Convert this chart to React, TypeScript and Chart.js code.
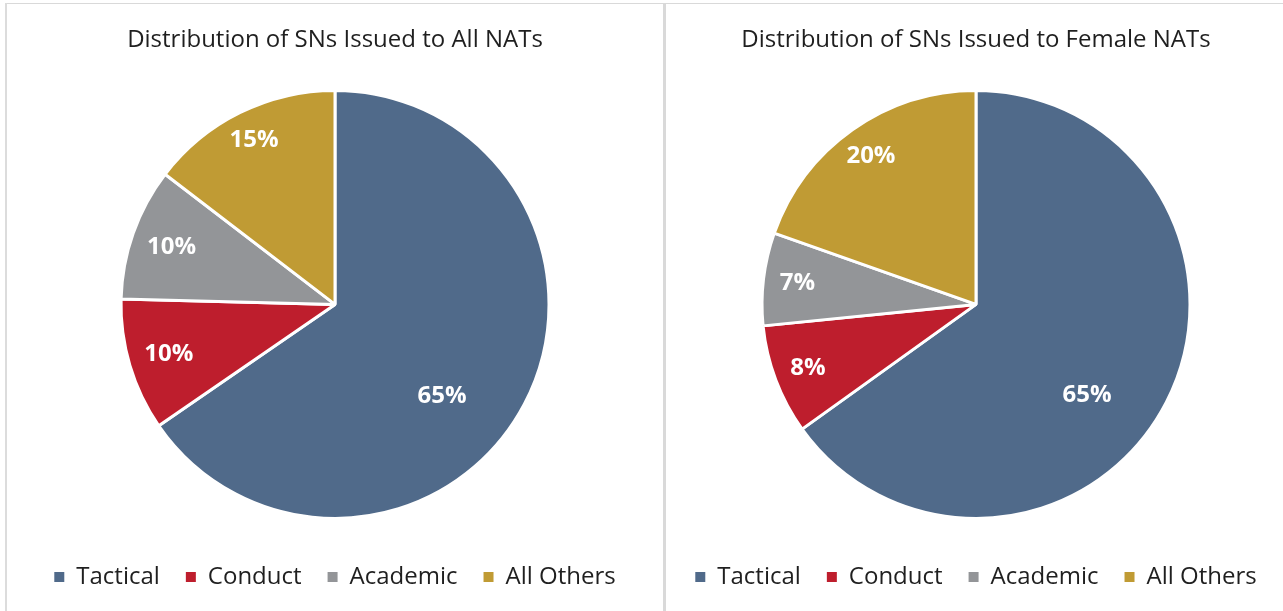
import React, { useEffect, useRef } from "react";
import { Chart, registerables } from "chart.js";

Chart.register(...registerables);

const categories = ["Tactical", "Conduct", "Academic", "All Others"];
const allNatsShare = [65.4, 10.0, 10.0, 14.6];
const femaleNatsShare = [65.1, 8.3, 7.0, 19.6];
const allNatsTitle = "Distribution of SNs Issued to All NATs";
const femaleNatsTitle = "Distribution of SNs Issued to Female NATs";
const sliceColors = ["#506A8A", "#BE1E2D", "#939598", "#C09B34"];

const FONT = "'Open Sans', 'Noto Sans', sans-serif";

const sliceLabels = {
  id: "sliceLabels",
  afterDatasetsDraw(chart: any, _args: any, opts: any) {
    const ctx = chart.ctx;
    const meta = chart.getDatasetMeta(0);
    const data = chart.data.datasets[0].data as number[];
    const total = data.reduce((a, b) => a + b, 0);
    ctx.save();
    ctx.fillStyle = "#ffffff";
    ctx.font = `bold 24px ${FONT}`;
    ctx.textAlign = "center";
    ctx.textBaseline = "middle";
    meta.data.forEach((arc: any, i: number) => {
      const p = arc.getProps(["x", "y", "startAngle", "endAngle", "outerRadius"], true);
      const mid = (p.startAngle + p.endAngle) / 2 + ((opts.angleShift?.[i] || 0) * Math.PI) / 180;
      const r = p.outerRadius * opts.radius[i];
      const pct = Math.round((data[i] / total) * 100);
      ctx.fillText(`${pct}%`, p.x + Math.cos(mid) * r, p.y + Math.sin(mid) * r);
    });
    ctx.restore();
  },
};

function PieChart(props: {
  values: number[];
  title: string;
  width: number;
  height: number;
  padLeft: number;
  labelRadius: number[];
  angleShift: number[];
}) {
  const ref = useRef<HTMLCanvasElement | null>(null);
  useEffect(() => {
    if (!ref.current) return;
    const chart = new Chart(ref.current, {
      type: "pie",
      data: {
        labels: categories,
        datasets: [
          {
            data: props.values,
            backgroundColor: sliceColors,
            borderColor: "#ffffff",
            borderWidth: 3,
          },
        ],
      },
      plugins: [sliceLabels as any],
      options: {
        animation: false,
        responsive: false,
        maintainAspectRatio: false,
        devicePixelRatio: 1,
        radius: 214,
        layout: { padding: { left: props.padLeft, right: 0, top: 0, bottom: 12 } },
        plugins: {
          title: {
            display: true,
            text: props.title,
            color: "#1f1f1f",
            font: { family: FONT, size: 24, weight: "normal" },
            padding: { top: 22, bottom: 15 },
          },
          legend: {
            position: "bottom",
            labels: {
              color: "#1f1f1f",
              font: { family: FONT, size: 24 },
              boxWidth: 10,
              boxHeight: 10,
              padding: 26,
              generateLabels: (c: any) =>
                (Chart as any).overrides.pie.plugins.legend.labels
                  .generateLabels(c)
                  .map((l: any) => ({ ...l, lineWidth: 0 })),
            },
          },
          tooltip: { enabled: false },
          sliceLabels: { radius: props.labelRadius, angleShift: props.angleShift },
        } as any,
      },
    });
    return () => chart.destroy();
  }, []);
  return (
    <canvas
      ref={ref}
      width={props.width}
      height={props.height}
      style={{ display: "block", width: props.width, height: props.height }}
    />
  );
}

export default function App() {
  useEffect(() => {
    document.body.style.margin = "0";
  }, []);
  return (
    <div
      style={{
        position: "fixed",
        left: 0,
        top: 0,
        width: 1283,
        height: 611,
        background: "#ffffff",
        overflow: "hidden",
      }}
    >
      <div style={{ position: "absolute", left: 5, top: 3, width: 1278, height: 1, background: "#d9d9d9" }} />
      <div style={{ position: "absolute", left: 5, top: 3, width: 2, height: 608, background: "#dcdcdc" }} />
      <div style={{ position: "absolute", left: 663, top: 3, width: 3, height: 608, background: "#d9d9d9" }} />
      <div style={{ position: "absolute", left: 7, top: 4 }}>
        <PieChart
          values={allNatsShare}
          title={allNatsTitle}
          width={656}
          height={607}
          padLeft={0}
          labelRadius={[0.66, 0.81, 0.81, 0.855]}
          angleShift={[13, 0, 0, 0]}
        />
      </div>
      <div style={{ position: "absolute", left: 666, top: 4 }}>
        <PieChart
          values={femaleNatsShare}
          title={femaleNatsTitle}
          width={617}
          height={607}
          padLeft={3}
          labelRadius={[0.67, 0.84, 0.84, 0.85]}
          angleShift={[12, 0, 0, 0]}
        />
      </div>
    </div>
  );
}
